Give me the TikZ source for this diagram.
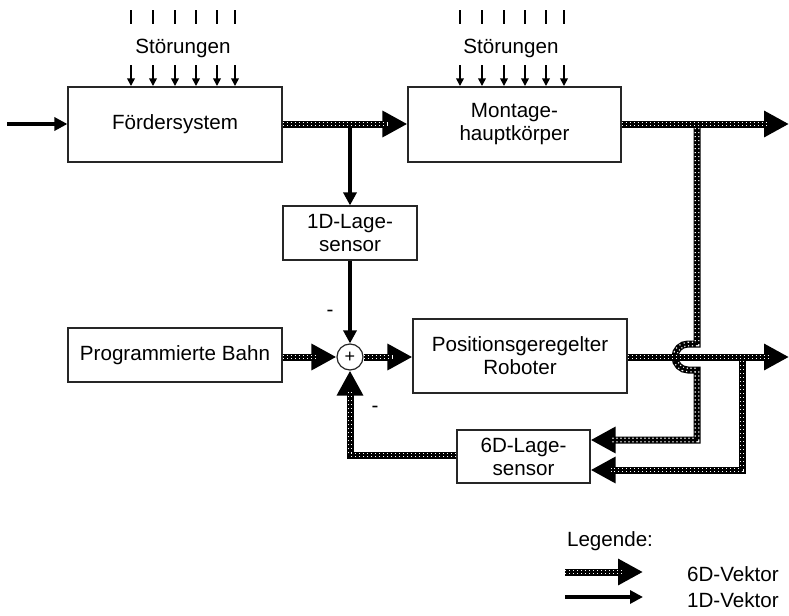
\documentclass[tikz,border=0pt]{standalone}
\usepackage{fontspec}
\setmainfont{Liberation Sans}
\usetikzlibrary{arrows.meta,positioning,calc}
\tikzset{
    every node/.style={font=\fontsize{10.3}{11.5}\selectfont},
    block/.style={rectangle,draw=black!85,line width=0.6pt,fill=white,align=center,inner sep=2pt},
    summer/.style={circle,draw=black!85,line width=0.6pt,fill=white,minimum size=13pt,inner sep=0pt},
    vec1/.style={draw=black,line width=1.6pt,-{Triangle[length=6.5pt,width=6.5pt]}},
    vec6/.style={draw=black,line width=3.5pt,-{Triangle[length=12.5pt,width=12.5pt]},
        postaction={draw=white,arrows=-,line width=2.3pt,dash pattern=on 0.55pt off 1.45pt,shorten >=10pt},
        postaction={draw=black,arrows=-,line width=1pt,shorten >=10pt}},
    tick/.style={draw=black,line width=0.8pt},
    disturb/.style={draw=black,line width=0.8pt,-{Triangle[length=3.8pt,width=3.8pt]}}
}

\begin{document}
\begin{tikzpicture}[x=0.5pt,y=-0.5pt]
\useasboundingbox (0,0) rectangle (789,616);

% blocks
\node[block,minimum width=107pt,minimum height=37.5pt] (foerder) at (175,124.5) {Fördersystem};
\node[block,minimum width=106.5pt,minimum height=37.5pt] (montage) at (514.5,124.5) {Montage-\\hauptkörper};
\node[block,minimum width=67pt,minimum height=27pt] (lage1) at (350,233) {1D-Lage-\\sensor};
\node[block,minimum width=107pt,minimum height=27pt] (bahn) at (175,355) {Programmierte Bahn};
\node[block,minimum width=107pt,minimum height=37pt] (robot) at (520,356) {Positionsgeregelter\\Roboter};
\node[block,minimum width=66.5pt,minimum height=26.5pt] (lage6) at (523.5,456.5) {6D-Lage-\\sensor};
\node[summer] (sum) at (350,357) {\small +};

% disturbances
\node (stoer1) at (183,48) {Störungen};
\node (stoer2) at (511,48) {Störungen};
\foreach \dx in {0,22,44,65,86,104} {
    \draw[tick] (131+\dx,10) -- (131+\dx,24);
    \draw[disturb] (131+\dx,65) -- (131+\dx,86);
    \draw[tick] (460+\dx,10) -- (460+\dx,24);
    \draw[disturb] (460+\dx,65) -- (460+\dx,86);
}

% free ends
\coordinate (in) at (7,124);
\coordinate (outA) at (789,124);
\coordinate (outB) at (789,357);
\coordinate (tapA) at (697,124);
\coordinate (tapB) at (742,357);

% 1D signals
\draw[vec1] (in) -- (foerder.west |- in);
\draw[vec1] (lage1 |- in) -- (lage1.north);
\draw[vec1] (lage1.south) -- (sum.north);
\node (minus1) at (330,313) {-};

% 6D signals
\draw[vec6] (tapA) -- (697,344) -- (688,344)
    arc[start angle=90,end angle=270,radius=6.5pt] -- (697,370) -- (697,440) -- (lage6.east |- 0,440);
\draw[vec6] (tapB) -- (742,470) -- (lage6.east |- 0,470);
\draw[vec6] (foerder.east |- in) -- (montage.west |- in);
\draw[vec6] (montage.east |- outA) -- (outA);
\draw[vec6] (robot.east |- outB) -- (outB);
\draw[vec6] (bahn.east |- sum) -- (sum.west);
\draw[vec6] (sum.east) -- (robot.west |- sum);
\draw[vec6] (lage6.west |- 0,455) -| (sum.south);
\node (minus2) at (375,409) {-};

% legend
\node[anchor=west] (legende) at (560,541) {Legende:};
\coordinate (l6a) at (565,572);
\coordinate (l6b) at (643,572);
\coordinate (l1a) at (565,597);
\coordinate (l1b) at (643,597);
\draw[vec6] (l6a) -- (l6b);
\draw[vec1] (l1a) -- (l1b);
\node[anchor=west] (txt6) at (680,574) {6D-Vektor};
\node[anchor=west] (txt1) at (680,600) {1D-Vektor};
\end{tikzpicture}
\end{document}
